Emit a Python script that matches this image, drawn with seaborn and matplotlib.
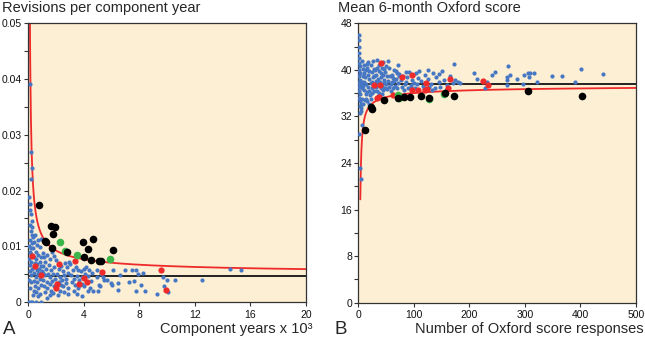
import numpy as np
import pandas as pd
import matplotlib.pyplot as plt
from matplotlib.ticker import MultipleLocator, FuncFormatter
import seaborn as sns

# ---- panel A: revisions per component year vs component years (x 10^3) ----
a_blue_x = [0.14, 0.19, 0.27, 0.24, 0.09, 0.12, 0.14, 0.19, 0.27, 0.14, 0.32, 0.19, 0.30, 0.14, 0.27,
            0.09, 0.20, 0.12, 0.25, 0.10, 0.22, 0.15, 0.28, 0.12, 0.20, 0.10, 0.25, 0.15, 0.07, 0.19,
            0.31, 0.60, 0.96, 0.35,
            0.38, 0.50, 0.62, 0.45, 0.38, 0.55, 0.70, 0.85, 0.42, 0.60, 0.75, 0.92, 0.50, 0.68, 0.85,
            0.40, 0.62, 0.78, 0.95, 0.45, 0.70, 0.55, 0.85, 0.40, 0.65, 0.90, 0.50, 0.75, 0.60, 0.88,
            0.45, 0.70, 0.98, 0.80, 0.91,
            1.05, 1.15, 1.25, 1.40, 1.55, 1.70, 1.85, 1.10, 1.30, 1.50, 1.65, 1.90, 1.05, 1.20, 1.45,
            1.60, 1.80, 1.10, 1.35, 1.55, 1.75, 1.95, 1.15, 1.40, 1.65, 1.85, 1.25, 1.37, 1.60, 1.80,
            2.05, 2.20, 2.35, 2.50, 2.65, 2.80, 2.95, 2.10, 2.30, 2.45, 2.60, 2.75, 2.90, 2.25, 2.40,
            2.55, 2.70, 2.85, 2.30, 2.60, 2.90, 2.15,
            3.05, 3.25, 3.45, 3.60, 3.80, 4.00, 4.20, 4.40, 3.10, 3.30, 3.50, 3.70, 3.90, 4.10, 4.35,
            3.20, 3.40, 3.60, 3.85, 4.05, 4.30, 3.30, 3.55, 3.88, 4.45, 3.75,
            4.53, 4.70, 4.94, 5.10, 5.06, 5.20, 5.42, 5.50, 6.00, 6.05, 6.14, 6.50, 6.50, 6.62, 7.00,
            7.50, 7.60, 7.80, 8.10, 7.90, 7.80, 8.45, 4.94, 5.70, 4.60, 5.25, 7.30, 8.30,
            9.30, 9.70, 10.0, 9.80, 10.1, 10.6, 12.5, 14.5, 15.3]
a_blue_y = [0.0391, 0.0269, 0.0240, 0.0221, 0.0189, 0.0175, 0.0165, 0.0157, 0.0145, 0.0138, 0.0134,
            0.0127, 0.0120, 0.0112, 0.0106, 0.0101, 0.0096, 0.0090, 0.0086, 0.0078, 0.0072, 0.0066,
            0.0060, 0.0055, 0.0048, 0.0040, 0.0035, 0.0025, 0.0, 0.0, 0.0, 0.0, 0.0, 0.0012,
            0.0117, 0.0120, 0.0102, 0.0108, 0.0096, 0.0090, 0.0112, 0.0098, 0.0080, 0.0078, 0.0085,
            0.0080, 0.0070, 0.0068, 0.0072, 0.0062, 0.0058, 0.0060, 0.0065, 0.0052, 0.0050, 0.0045,
            0.0042, 0.0038, 0.0035, 0.0030, 0.0028, 0.0025, 0.0018, 0.0015, 0.0020, 0.0010, 0.0055,
            0.0052, 0.0113,
            0.0088, 0.0080, 0.0072, 0.0085, 0.0078, 0.0090, 0.0082, 0.0065, 0.0060, 0.0066, 0.0058,
            0.0062, 0.0052, 0.0048, 0.0050, 0.0045, 0.0050, 0.0040, 0.0036, 0.0032, 0.0038, 0.0042,
            0.0028, 0.0025, 0.0020, 0.0028, 0.0018, 0.0008, 0.0012, 0.0017,
            0.0075, 0.0060, 0.0065, 0.0055, 0.0070, 0.0062, 0.0072, 0.0050, 0.0045, 0.0040, 0.0048,
            0.0042, 0.0052, 0.0035, 0.0030, 0.0028, 0.0034, 0.0025, 0.0020, 0.0018, 0.0015, 0.0012,
            0.0068, 0.0058, 0.0062, 0.0057, 0.0055, 0.0060, 0.0062, 0.0057, 0.0048, 0.0042, 0.0046,
            0.0040, 0.0045, 0.0050, 0.0047, 0.0035, 0.0030, 0.0025, 0.0033, 0.0028, 0.0020, 0.0020,
            0.0015, 0.0010, 0.0025, 0.0030,
            0.0037, 0.0020, 0.0057, 0.0030, 0.0019, 0.0029, 0.0045, 0.0040, 0.0034, 0.0030, 0.0057,
            0.0034, 0.0022, 0.0048, 0.0057, 0.0057, 0.0038, 0.0057, 0.0030, 0.0050, 0.0019, 0.0019,
            0.0045, 0.0040, 0.0052, 0.0050, 0.0035, 0.0052,
            0.0014, 0.0044, 0.0040, 0.0029, 0.0018, 0.0040, 0.0040, 0.0059, 0.0057]
a_red_x = [0.31, 0.53, 0.91, 2.21, 3.40, 5.30, 9.59, 9.90, 4.05, 4.22, 3.65, 2.10, 2.03]
a_red_y = [0.0083, 0.0064, 0.0048, 0.0069, 0.0073, 0.0053, 0.0057, 0.0022, 0.0043, 0.0036, 0.0033,
           0.0032, 0.0025]
a_green_x = [2.30, 2.66, 3.53, 5.90]
a_green_y = [0.0107, 0.0092, 0.0084, 0.0078]
a_black_x = [0.79, 1.63, 1.94, 1.77, 1.25, 1.28, 1.73, 2.83, 3.96, 4.70, 4.29, 4.05, 4.53, 5.08, 5.22,
             6.14]
a_black_y = [0.0174, 0.0136, 0.0134, 0.0122, 0.0110, 0.0108, 0.0097, 0.0089, 0.0108, 0.0113, 0.0095,
             0.0080, 0.0075, 0.0074, 0.0074, 0.0093]
a_mean = 0.0047
a_limit = [0.0049, 0.0020, 0.00035]  # coefficients of 1/sqrt(x), 1/x, 1/x^2

# ---- panel B: mean 6-month Oxford score vs number of responses ----
b_blue_x = [1, 1, 2, 1, 2, 1, 3, 1, 3, 2, 3, 1, 4, 2, 1, 3, 2, 3, 3, 4,
            6, 8, 10, 12, 7, 9, 11, 13, 6, 8, 14, 10, 13, 15, 12, 7, 9, 11, 14, 15,
            16, 18, 20, 22, 24, 26, 28, 17, 19, 21, 23, 25, 27, 29, 18, 22, 26, 30, 16, 20,
            24, 28, 30, 19, 25,
            31, 33, 35, 37, 39, 41, 43, 45, 47, 49, 32, 34, 36, 38, 40, 42, 44, 46, 48, 50,
            33, 38, 44, 36, 42, 31, 35, 40, 46, 48,
            52, 54, 56, 58, 60, 62, 64, 66, 68, 70, 72, 74, 51, 55, 59, 63, 67, 71, 53, 57,
            61, 65, 69, 73,
            76, 80, 84, 88, 92, 96, 100, 104, 108, 78, 82, 86, 90, 94, 98, 102, 106, 110, 85, 95,
            112, 116, 120, 125, 130, 135, 140, 145, 150, 155, 160, 165, 170, 175, 180, 118, 128, 138,
            148, 158, 172, 125, 145, 133,
            2, 6, 3, 4, 3, 4, 5,
            183, 209, 214, 228, 232, 240, 247, 270, 267, 267, 267, 274, 285, 298, 297, 306, 307, 310,
            316, 322, 349, 366, 390, 401, 440]
b_blue_y = [46.0, 45.2, 44.0, 42.9, 42.0, 41.2, 40.6, 40.0, 39.4, 38.9, 38.3, 37.8, 37.4, 37.0, 36.4,
            35.9, 35.2, 34.7, 33.8, 33.0,
            41.5, 40.2, 39.5, 38.8, 38.0, 37.2, 36.5, 35.8, 35.0, 34.2, 39.9, 40.8, 37.5, 36.2, 34.8,
            36.8, 39.0, 38.0, 35.0, 41.0,
            40.3, 39.1, 38.4, 37.8, 39.6, 38.7, 40.2, 37.0, 36.3, 35.7, 35.0, 36.8, 37.5, 38.9, 41.3,
            40.8, 41.6, 40.0, 34.6, 34.2, 36.0, 36.4, 37.2, 39.8, 38.0,
            39.1, 40.4, 38.5, 39.8, 37.9, 38.8, 40.3, 39.2, 38.2, 37.5, 37.0, 36.4, 37.6, 36.0, 36.9,
            37.3, 36.5, 37.8, 39.6, 40.6, 41.7, 40.9, 41.3, 35.5, 35.9, 38.1, 38.0, 39.4, 40.1, 36.8,
            39.0, 38.1, 40.3, 37.6, 39.2, 38.6, 40.0, 37.2, 38.4, 39.5, 37.8, 38.9, 36.7, 37.0, 36.3,
            36.9, 39.8, 40.8, 41.5, 38.9, 37.9, 38.1, 36.8, 39.3,
            38.2, 39.0, 37.6, 38.8, 39.7, 38.3, 37.8, 39.4, 38.6, 37.1, 36.6, 37.9, 36.9, 37.4, 39.1,
            36.8, 37.5, 39.8, 39.6, 37.0,
            38.1, 37.3, 39.2, 38.4, 37.6, 39.4, 38.7, 37.9, 39.8, 38.3, 37.4, 38.9, 37.7, 38.3, 38.0,
            36.9, 37.0, 36.8, 37.1, 36.5, 41.0, 40.0, 39.3, 36.6,
            29.0, 30.5, 23.1, 21.3, 32.6, 33.4, 34.2,
            37.8, 39.5, 38.4, 36.8, 38.0, 39.2, 39.6, 40.7, 38.8, 38.2, 37.4, 39.2, 38.5, 39.1, 37.5,
            39.5, 38.8, 39.4, 39.4, 38.0, 38.9, 38.9, 38.0, 40.2, 39.3]
b_red_x = [41, 28, 39, 78, 96, 122, 165, 33, 38, 63, 96, 108, 120, 124, 162, 224, 234]
b_red_y = [41.1, 37.4, 37.4, 38.7, 39.2, 37.7, 38.5, 35.1, 35.3, 35.7, 36.6, 36.5, 36.5, 36.7, 36.9,
           38.1, 37.4]
b_green_x = [72, 73, 127, 154]
b_green_y = [35.7, 35.1, 35.0, 35.9]
b_black_x = [12, 22, 24, 47, 72, 82, 93, 112, 127, 157, 172, 306, 402]
b_black_y = [29.7, 33.6, 33.3, 34.9, 35.1, 35.4, 35.4, 35.5, 35.2, 36.0, 35.5, 36.3, 35.5]
b_mean = 37.6
b_limit = [15.7, 150.0]  # coefficients of 1/sqrt(n), 1/n^2

BLUE = '#4677c4'
RED = '#ee2a2b'
GREEN = '#3cb54a'
FACE = '#fdefd3'
EDGE = '#333333'

sns.set_style('ticks')
plt.rcParams['font.family'] = ['Liberation Sans', 'DejaVu Sans']

fig = plt.figure(figsize=(6.45, 3.37), dpi=100)
ax_a = fig.add_axes([28 / 645, 1 - 302 / 337, 278 / 645, 278.7 / 337])
ax_b = fig.add_axes([358.3 / 645, 1 - 302.7 / 337, 277.7 / 645, 279.4 / 337])


def draw_points(ax, groups):
    for xs, ys, color, size in groups:
        sns.scatterplot(x=xs, y=ys, ax=ax, color=color, s=size, linewidth=0, zorder=3, legend=False)


# panel A
xa = np.linspace(0.135, 20, 800)
ya = a_mean + a_limit[0] / np.sqrt(xa) + a_limit[1] / xa + a_limit[2] / xa ** 2
sns.lineplot(x=xa, y=ya, ax=ax_a, color=RED, lw=1.3, estimator=None, sort=False, zorder=2)
ax_a.axhline(a_mean, color='#222222', lw=1.4, zorder=2)
draw_points(ax_a, [(a_blue_x, a_blue_y, BLUE, 9),
                   (a_red_x, a_red_y, RED, 20),
                   (a_green_x, a_green_y, GREEN, 30),
                   (a_black_x, a_black_y, 'black', 30)])
ax_a.set_xlim(0, 20)
ax_a.set_ylim(0, 0.05)
ax_a.xaxis.set_major_locator(MultipleLocator(4))
ax_a.yaxis.set_major_locator(MultipleLocator(0.01))
ax_a.yaxis.set_minor_locator(MultipleLocator(0.005))
ax_a.yaxis.set_major_formatter(FuncFormatter(lambda v, p: '0' if abs(v) < 1e-9 else f'{v:.2f}'))

# panel B
xb = np.linspace(3.6, 500, 1500)
yb = b_mean - b_limit[0] / np.sqrt(xb) - b_limit[1] / xb ** 2
sns.lineplot(x=xb, y=yb, ax=ax_b, color=RED, lw=1.3, estimator=None, sort=False, zorder=2)
ax_b.axhline(b_mean, color='#222222', lw=1.4, zorder=2)
draw_points(ax_b, [(b_blue_x, b_blue_y, BLUE, 9),
                   (b_red_x, b_red_y, RED, 20),
                   (b_green_x, b_green_y, GREEN, 30),
                   (b_black_x, b_black_y, 'black', 30)])
ax_b.set_xlim(0, 500)
ax_b.set_ylim(0, 48)
ax_b.xaxis.set_major_locator(MultipleLocator(100))
ax_b.yaxis.set_major_locator(MultipleLocator(8))
ax_b.yaxis.set_minor_locator(MultipleLocator(4))

for ax in (ax_a, ax_b):
    ax.set_facecolor(FACE)
    ax.set_xlabel('')
    ax.set_ylabel('')
    for sp in ax.spines.values():
        sp.set_color(EDGE)
        sp.set_linewidth(0.9)
    ax.tick_params(which='both', direction='out', length=3, width=0.8, color=EDGE,
                   labelsize=7.5, pad=1.5, labelcolor='#111111')
    ax.tick_params(axis='x', pad=2.5)

fig.text(2 / 645, 1 - 12 / 337, 'Revisions per component year', fontsize=10.5, va='baseline')
fig.text(338 / 645, 1 - 12 / 337, 'Mean 6-month Oxford score', fontsize=10.5, va='baseline')
fig.text(312 / 645, 1 - 333 / 337, 'Component years x 10³', fontsize=10.5, ha='right', va='baseline')
fig.text(644 / 645, 1 - 333 / 337, 'Number of Oxford score responses', fontsize=10.5, ha='right',
         va='baseline')
fig.text(3 / 645, 1 - 334.5 / 337, 'A', fontsize=13.5, va='baseline')
fig.text(335 / 645, 1 - 334.5 / 337, 'B', fontsize=13.5, va='baseline')

fig.savefig('out.png', dpi=100)
